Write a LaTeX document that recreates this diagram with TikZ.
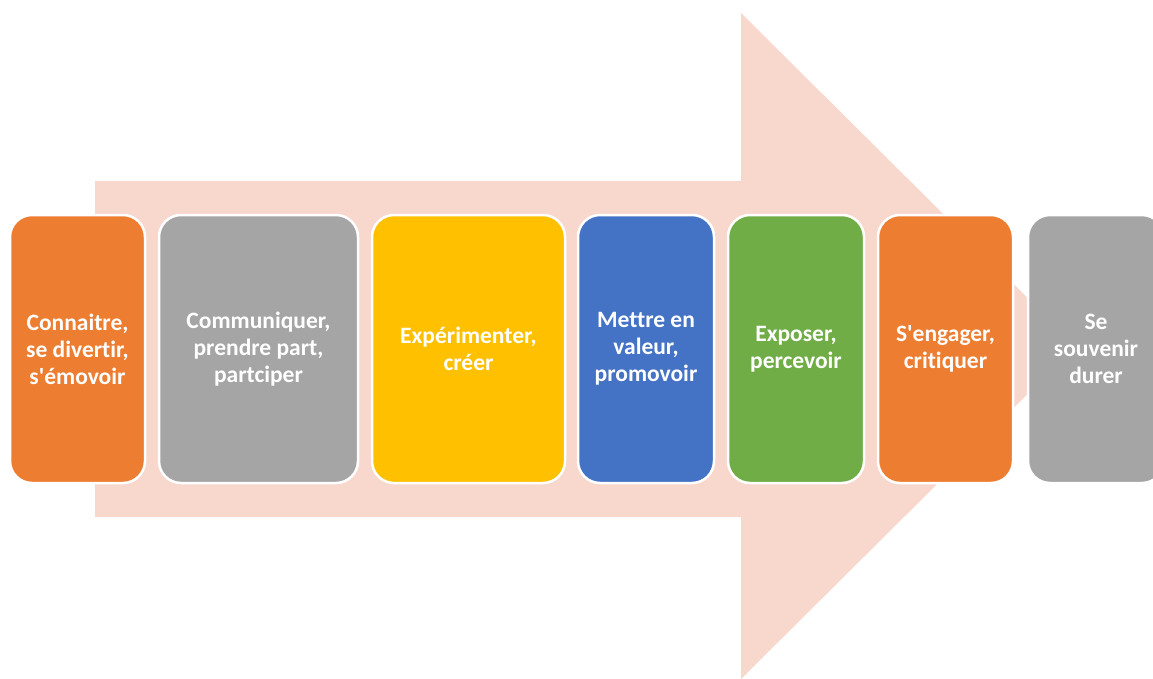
\documentclass[tikz,border=0pt]{standalone}
\usepackage{fontspec}
\setmainfont{Carlito}[Ligatures={NoCommon,NoContextual}]
\definecolor{cOrange}{HTML}{ED7D31}
\definecolor{cGray}{HTML}{A5A5A5}
\definecolor{cYellow}{HTML}{FFC000}
\definecolor{cBlue}{HTML}{4472C4}
\definecolor{cGreen}{HTML}{70AD47}
\definecolor{cArrow}{HTML}{F8D8CD}
\newcommand{\apos}{\textquotesingle}
\tikzset{
  stagebox/.style={draw=white, line width=2.5pt, rounded corners=22pt, minimum height=268pt,
    align=center, text=white, font=\bfseries\fontsize{23.5}{27}\selectfont, inner sep=0pt},
}
\begin{document}
\begin{tikzpicture}[x=1pt,y=-1pt]
\useasboundingbox (0,0) rectangle (1153,679);
\clip (0,0) rectangle (1153,679);
\fill[cArrow] (95,181) -- (741,181) -- (741,13) -- (1076,346) -- (741,679) -- (741,517) -- (95,517) -- cycle;
\node[stagebox, fill=cOrange, minimum width=135pt] (b1) at (77.5,349) {Connaitre,\\se divertir,\\s\apos émovoir};
\node[stagebox, fill=cGray, minimum width=199pt] (b2) at (258.5,349) {Communiquer,\\prendre part,\\partciper};
\node[stagebox, fill=cYellow, minimum width=193pt] (b3) at (468.5,349) {Expérimenter,\\créer};
\node[stagebox, fill=cBlue, minimum width=136pt] (b4) at (646,349) {Mettre en\\valeur,\\promovoir};
\node[stagebox, fill=cGreen, minimum width=136pt] (b5) at (796,349) {Exposer,\\percevoir};
\node[stagebox, fill=cOrange, minimum width=135pt] (b6) at (945.5,349) {S\apos engager,\\critiquer};
\node[stagebox, fill=cGray, minimum width=136pt] (b7) at (1096,349) {Se\\souvenir\\durer};
\end{tikzpicture}
\end{document}
